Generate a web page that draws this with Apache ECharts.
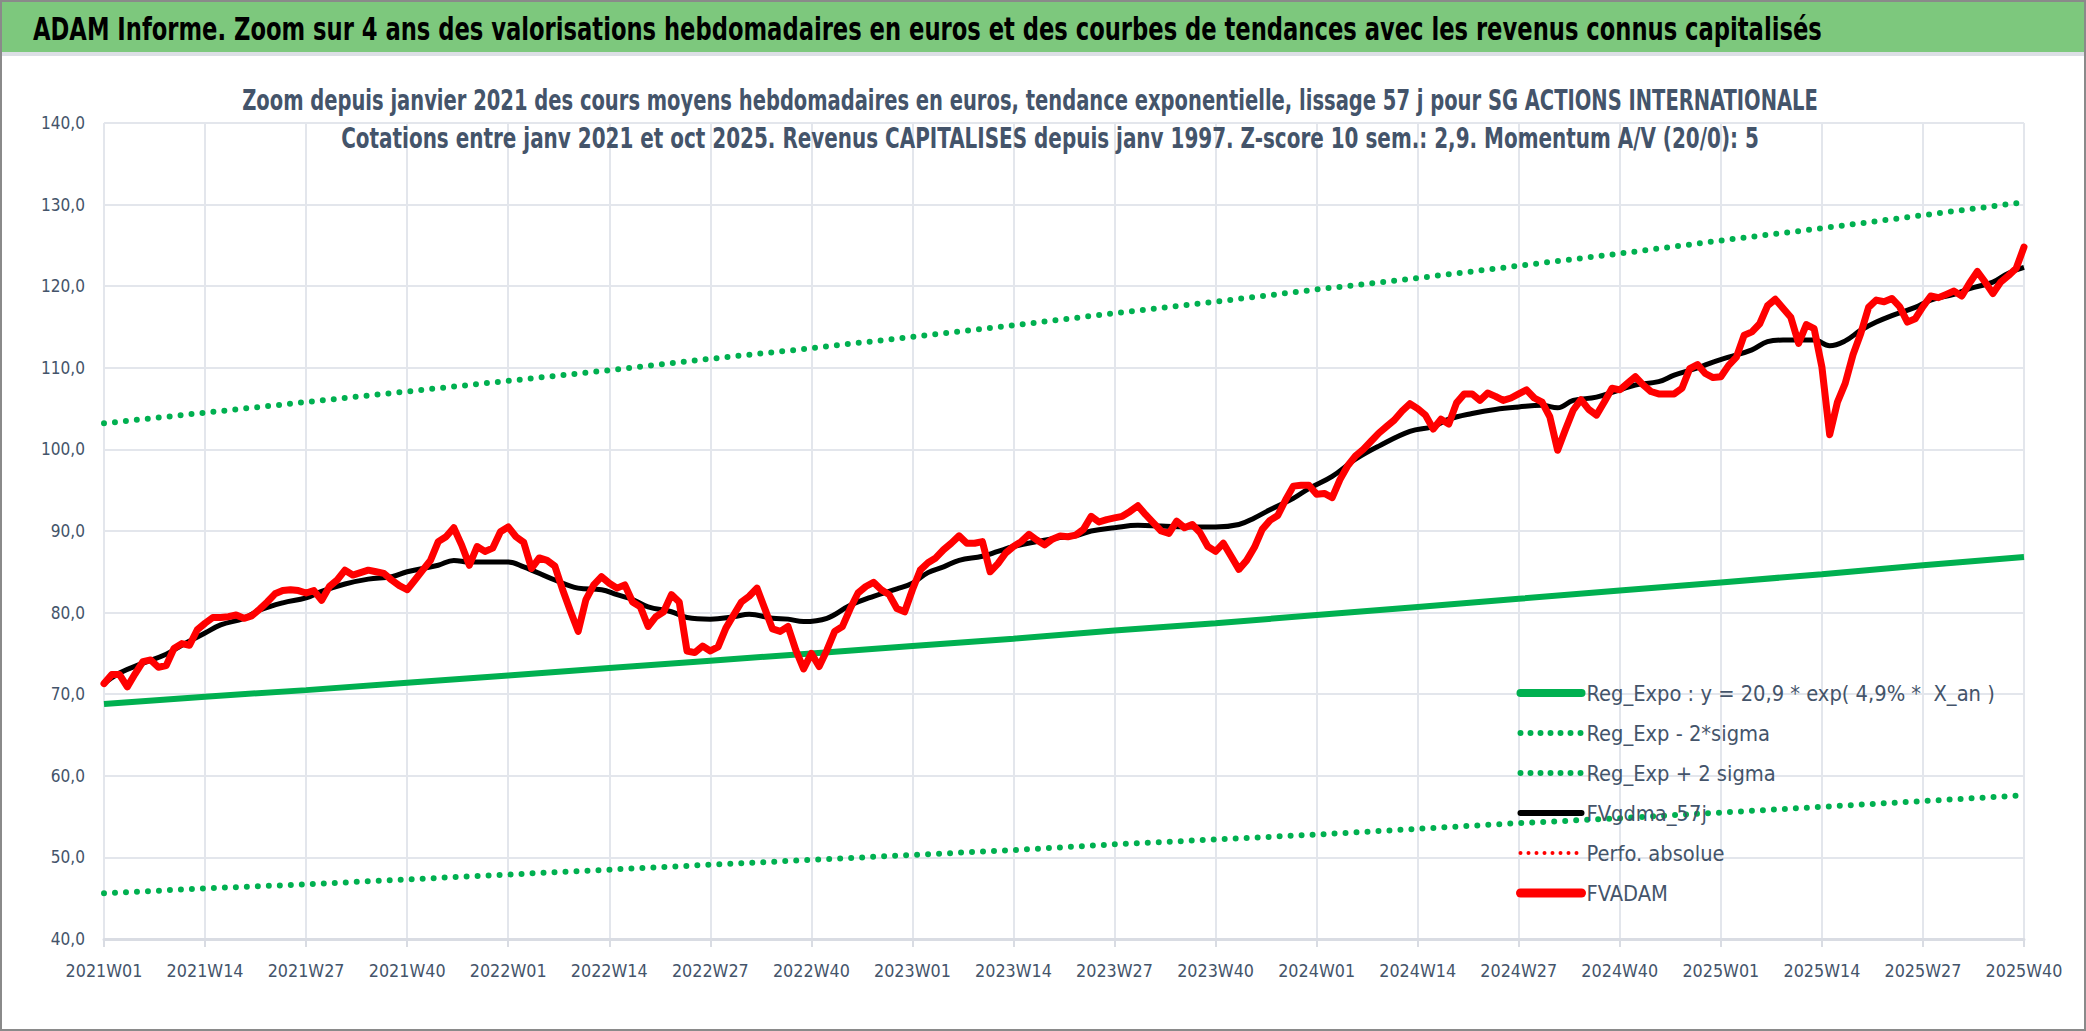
<!DOCTYPE html>
<html>
<head>
<meta charset="utf-8">
<script src="https://cdn.jsdelivr.net/npm/echarts@6/dist/echarts.min.js"></script>
<style>
html, body { margin: 0; padding: 0; background: #fff; }
#main { width: 2086px; height: 1031px; }
</style>
</head>
<body>
<div id="main"></div>
<script>
// axe des semaines
var years = [2021, 2022, 2023, 2024, 2025];
var weeksPerYear = [52, 52, 52, 52, 40];

// FVADAM, cours moyen hebdomadaire (une valeur par semaine, 2021W01 -> 2025W40)
var fvadam = [
  71.3, 72.4, 72.4, 70.9, 72.5, 74.0, 74.2, 73.3, 73.5, 75.6,
  76.2, 76.0, 77.9, 78.7, 79.4, 79.4, 79.5, 79.7, 79.3, 79.6,
  80.4, 81.3, 82.3, 82.7, 82.8, 82.7, 82.4, 82.7, 81.5, 83.2,
  84.0, 85.2, 84.6, 84.9, 85.2, 85.0, 84.8, 84.0, 83.3, 82.8,
  84.0, 85.2, 86.4, 88.7, 89.3, 90.4, 88.3, 85.8, 88.1, 87.5,
  87.9, 89.9, 90.5, 89.3, 88.6, 85.4, 86.7, 86.4, 85.7, 82.8,
  80.2, 77.7, 81.6, 83.4, 84.4, 83.6, 83.0, 83.4, 81.3, 80.7,
  78.3, 79.5, 80.1, 82.2, 81.3, 75.3, 75.1, 75.9, 75.3, 75.8,
  78.1, 79.7, 81.3, 82.0, 83.0, 80.5, 78.0, 77.7, 78.3, 75.4,
  73.1, 75.0, 73.4, 75.4, 77.7, 78.3, 80.5, 82.4, 83.2, 83.7,
  82.8, 82.2, 80.5, 80.1, 82.8, 85.2, 86.1, 86.7, 87.7, 88.5,
  89.4, 88.5, 88.5, 88.7, 85.0, 86.0, 87.3, 88.1, 88.7, 89.6,
  88.9, 88.3, 89.0, 89.4, 89.3, 89.5, 90.2, 91.8, 91.1, 91.4,
  91.6, 91.8, 92.4, 93.1, 92.0, 91.0, 90.0, 89.7, 91.2, 90.4,
  90.8, 89.8, 88.1, 87.5, 88.5, 86.9, 85.3, 86.4, 88.0, 90.2,
  91.3, 91.9, 93.8, 95.5, 95.6, 95.6, 94.5, 94.6, 94.1, 96.3,
  98.0, 99.2, 100.0, 101.0, 102.0, 102.8, 103.6, 104.7, 105.6, 105.0,
  104.2, 102.5, 103.7, 103.1, 105.7, 106.8, 106.8, 106.0, 106.9, 106.5,
  106.0, 106.3, 106.8, 107.3, 106.3, 105.8, 104.0, 99.9, 102.4, 104.8,
  106.1, 104.9, 104.2, 105.8, 107.5, 107.3, 108.1, 108.9, 107.9, 107.1,
  106.8, 106.8, 106.8, 107.5, 109.9, 110.4, 109.3, 108.8, 108.9, 110.3,
  111.3, 114.0, 114.4, 115.4, 117.6, 118.4, 117.3, 116.2, 113.0, 115.3,
  114.8, 110.1, 101.8, 105.8, 108.1, 111.6, 114.2, 117.4, 118.3, 118.1,
  118.5, 117.5, 115.6, 116.0, 117.5, 118.8, 118.6, 119.0, 119.4, 118.8,
  120.4, 121.8, 120.5, 119.1, 120.5, 121.3, 122.2, 124.8
];

var gdmaWeeks = [0, 2, 5, 8, 10, 13, 15, 18, 20, 23, 26, 28, 31, 34, 37, 39, 43, 45, 47, 52,
  54, 58, 61, 64, 66, 68, 70, 73, 75, 78, 81, 83, 86, 88, 90, 93, 96, 99, 102, 104,
  106, 108, 110, 113, 115, 117, 120, 123, 125, 127, 130, 133, 136, 140, 143, 146, 148, 150, 153, 155,
  158, 161, 164, 168, 171, 173, 176, 179, 182, 185, 187, 189, 192, 195, 197, 200, 202, 205, 207, 209,
  212, 214, 216, 220, 222, 224, 226, 228, 230, 233, 235, 238, 240, 243, 245, 247];
var gdmaValues = [71.3, 72.6, 73.8, 74.9, 76.0, 77.5, 78.5, 79.3, 80.3, 81.2, 81.8, 82.6, 83.5, 84.1, 84.4, 85.0, 85.8, 86.4, 86.2, 86.2,
  85.6, 84.0, 83.0, 82.8, 82.2, 81.6, 80.7, 80.1, 79.4, 79.2, 79.5, 79.8, 79.3, 79.2, 78.9, 79.3, 80.9, 82.0, 82.9, 83.6,
  84.9, 85.6, 86.4, 86.9, 87.5, 88.1, 88.7, 89.2, 89.4, 90.0, 90.4, 90.7, 90.6, 90.5, 90.5, 90.8, 91.6, 92.6, 94.0, 95.2,
  96.7, 98.8, 100.4, 102.2, 102.8, 103.7, 104.4, 104.9, 105.2, 105.4, 105.1, 106.0, 106.4, 107.3, 107.9, 108.3, 109.1, 110.0, 110.7, 111.3,
  112.2, 113.2, 113.4, 113.4, 112.7, 113.3, 114.6, 115.6, 116.4, 117.4, 118.3, 119.0, 119.7, 120.5, 121.6, 122.3];

// tendance exponentielle et bandes +/- 2 sigma, lues aux graduations
var trendWeeks = [0, 13, 26, 39, 52, 65, 78, 91, 104, 117, 130, 143, 156, 169, 182, 195, 208, 221, 234, 247];
var regExpo = [68.8, 69.7, 70.5, 71.4, 72.3, 73.2, 74.1, 75.0, 75.9, 76.8, 77.8, 78.7, 79.7, 80.7, 81.7, 82.7, 83.7, 84.7, 85.8, 86.8];
var regLow  = [45.6, 46.2, 46.7, 47.3, 47.9, 48.5, 49.1, 49.7, 50.3, 50.9, 51.6, 52.2, 52.8, 53.5, 54.2, 54.8, 55.5, 56.2, 56.9, 57.6];
var regHigh = [103.2, 104.5, 105.8, 107.1, 108.4, 109.7, 111.1, 112.4, 113.8, 115.2, 116.7, 118.1, 119.6, 121.0, 122.5, 124.0, 125.6, 127.1, 128.7, 130.3];

var legendNames = ['Reg_Expo : y = 20,9 * exp( 4,9% *  X_an )', 'Reg_Exp - 2*sigma', 'Reg_Exp + 2 sigma',
  'FVgdma_57j', 'Perfo. absolue', 'FVADAM'];

var mainTitle = 'ADAM Informe. Zoom sur 4 ans des valorisations hebdomadaires en euros et des courbes de tendances avec les revenus connus capitalisés';
var subTitle1 = 'Zoom depuis janvier 2021 des cours moyens hebdomadaires en euros, tendance exponentielle, lissage 57 j pour SG ACTIONS INTERNATIONALE';
var subTitle2 = 'Cotations entre janv 2021 et oct 2025. Revenus CAPITALISES depuis janv 1997. Z-score 10 sem.: 2,9. Momentum A/V (20/0): 5';

var FONT = "'Liberation Sans Narrow', 'DejaVu Sans Condensed', 'Noto Sans', sans-serif";
var TXT = '#44546A';
var GREEN = '#00B050';
var RED = '#FF0000';

var weeks = [];
years.forEach(function (y, i) {
  for (var w = 1; w <= weeksPerYear[i]; w++) {
    weeks.push(y + 'W' + (w < 10 ? '0' : '') + w);
  }
});

// taille de police pour qu'un texte occupe une largeur donnee
var ctx = document.createElement('canvas').getContext('2d');
function fitSize(text, weight, width) {
  ctx.font = weight + ' 100px ' + FONT;
  return Math.round(100 * width / ctx.measureText(text).width * 10) / 10;
}

// texte etire en hauteur (police plus etroite comme dans l'original)
var STRETCH = 1.3;
function tallText(text, x, y, width, color, align) {
  return {
    type: 'text', x: x, y: y, z: 5, scaleX: 1 / STRETCH,
    style: {
      text: text, fill: color, textAlign: align, textVerticalAlign: 'middle',
      font: 'bold ' + (fitSize(text, 'bold', width) * STRETCH) + 'px ' + FONT
    }
  };
}

function pairs(xs, ys) {
  return xs.map(function (x, i) { return [x, ys[i]]; });
}

var dotted = [0, 11];

var myChart = echarts.init(document.getElementById('main'), null, { renderer: 'svg' });
var option = {
  animation: false,
  backgroundColor: '#fff',
  graphic: [
    { type: 'rect', shape: { x: 0, y: 0, width: 2086, height: 52 }, style: { fill: '#7DC87D' }, z: 0 },
    { type: 'rect', shape: { x: 0, y: 52, width: 2086, height: 4 }, style: { fill: '#DCDFE5' }, z: 0 },
    { type: 'rect', shape: { x: 1, y: 1, width: 2084, height: 1029 }, style: { fill: 'none', stroke: '#8A8A8A', lineWidth: 2 }, z: 10 },
    tallText(mainTitle, 33, 29, 1787, '#000', 'left'),
    tallText(subTitle1, 1030, 100, 1580, TXT, 'center'),
    tallText(subTitle2, 1050, 138, 1420, TXT, 'center')
  ],
  grid: { left: 104, right: 62, top: 123, bottom: 92, containLabel: false },
  legend: {
    orient: 'vertical',
    left: 1511,
    top: 676,
    itemWidth: 61,
    itemHeight: 14,
    itemGap: 16,
    itemStyle: { opacity: 0 },
    data: [
      { name: legendNames[0], lineStyle: { color: GREEN, width: 8, cap: 'round' } },
      { name: legendNames[1], lineStyle: { color: GREEN, width: 6, type: [0, 10], cap: 'round' } },
      { name: legendNames[2], lineStyle: { color: GREEN, width: 6, type: [0, 10], cap: 'round' } },
      { name: legendNames[3], lineStyle: { color: '#000', width: 6, cap: 'round' } },
      { name: legendNames[4], lineStyle: { color: RED, width: 4, type: [0, 8], cap: 'round' } },
      { name: legendNames[5], lineStyle: { color: RED, width: 9, cap: 'round' } }
    ],
    textStyle: { color: TXT, fontFamily: FONT, fontSize: fitSize(legendNames[0], 'normal', 409), lineHeight: 24 }
  },
  xAxis: {
    type: 'category',
    data: weeks,
    boundaryGap: false,
    axisLine: { lineStyle: { color: '#D9DCE3', width: 3 } },
    axisTick: { show: true, interval: 12, length: 8, lineStyle: { color: '#D9DCE3', width: 2 } },
    axisLabel: { interval: 12, color: TXT, fontFamily: FONT, fontSize: fitSize('2021W01', 'normal', 77), margin: 22 },
    splitLine: { show: true, interval: 12, lineStyle: { color: '#E3E6EC', width: 2 } }
  },
  yAxis: {
    type: 'value',
    min: 40,
    max: 140,
    interval: 10,
    axisLine: { show: false },
    axisTick: { show: false },
    axisLabel: {
      color: TXT, fontFamily: FONT, fontSize: fitSize('140,0', 'normal', 44), margin: 19,
      formatter: function (v) { return v.toFixed(1).replace('.', ','); }
    },
    splitLine: { lineStyle: { color: '#E3E6EC', width: 2 } }
  },
  series: [
    { name: legendNames[0], type: 'line', symbol: 'none', data: pairs(trendWeeks, regExpo),
      lineStyle: { color: GREEN, width: 6 }, itemStyle: { color: GREEN } },
    { name: legendNames[1], type: 'line', symbol: 'none', data: pairs(trendWeeks, regLow),
      lineStyle: { color: GREEN, width: 6, type: dotted, cap: 'round' }, itemStyle: { color: GREEN } },
    { name: legendNames[2], type: 'line', symbol: 'none', data: pairs(trendWeeks, regHigh),
      lineStyle: { color: GREEN, width: 6, type: dotted, cap: 'round' }, itemStyle: { color: GREEN } },
    { name: legendNames[3], type: 'line', symbol: 'none', smooth: 0.4, data: pairs(gdmaWeeks, gdmaValues),
      lineStyle: { color: '#000', width: 5 }, itemStyle: { color: '#000' } },
    { name: legendNames[4], type: 'line', symbol: 'none', data: [],
      lineStyle: { color: RED, width: 4, type: [0, 8], cap: 'round' }, itemStyle: { color: RED } },
    { name: legendNames[5], type: 'line', symbol: 'none', data: fvadam,
      lineStyle: { color: RED, width: 7, join: 'round', cap: 'round' }, itemStyle: { color: RED } }
  ]
};
myChart.setOption(option);
</script>
</body>
</html>
